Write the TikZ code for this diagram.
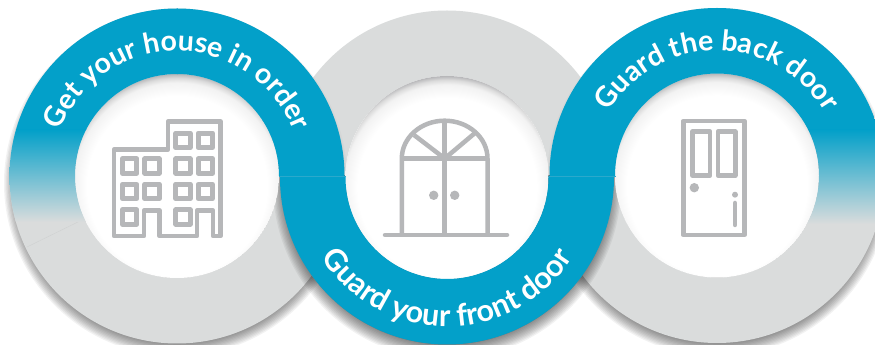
\documentclass[tikz,border=0pt]{standalone}
\usepackage{fontspec}
\usetikzlibrary{decorations.text}
\newfontfamily\ringfont[BoldFont={Lato Bold}]{Lato}
\definecolor{bandblue}{HTML}{03A0C9}
\definecolor{ringgray}{HTML}{DADCDC}
\definecolor{icongray}{HTML}{B6B7B9}
\definecolor{seamblue}{HTML}{2BA9CC}
\pgfdeclareradialshading{holeshade}{\pgfpoint{0bp}{0bp}}{
  rgb(0bp)=(1,1,1); rgb(20bp)=(1,1,1); rgb(23bp)=(0.95,0.95,0.95);
  rgb(24bp)=(0.86,0.86,0.86); rgb(25bp)=(0.70,0.70,0.71); rgb(50bp)=(0.70,0.70,0.71)}
\newcommand{\dropshadow}[4]{% x, y, top radius, opacity
  \foreach \i in {0,...,11}{
    \fill[black,opacity=#4] (#1,#2) circle ({#3-\i*1.3 pt});
  }}
\newcommand{\hole}[3]{%
  \begin{scope}
    \clip (#1,#2) circle (#3 pt);
    \fill[white] (#1,#2) circle (#3 pt);
    \shade[shading=holeshade] (#1,#2+10) circle ({#3+10.5 pt});
  \end{scope}}
\newcommand{\ringfmt}{\ringfont\bfseries\fontsize{28.5}{33}\selectfont\color{white}}
\newcommand{\ringfmtlow}{\ringfont\bfseries\fontsize{30.5}{34}\selectfont\color{white}}
\tikzset{
  icon/.style={draw=icongray,line width=4.5pt,line join=round,line cap=round},
  knob/.style={fill=icongray},
  seam/.style={draw=seamblue,line width=0.5pt},
  faintseam/.style={draw=black!5!ringgray,line width=0.4pt},
  ringtext/.style={decorate,decoration={text along path,text align=center,text={#1}}}
}
\begin{document}
\begin{tikzpicture}[x=1pt,y=1pt]
\useasboundingbox (0,0) rectangle (875,345);
\clip (0,0) rectangle (875,345);
\fill[white] (0,0) rectangle (875,345);
\begin{scope}[y=-1pt,yshift=345pt]
  % drop shadows
  \dropshadow{177}{183}{173}{0.05}
  \dropshadow{717}{183}{173}{0.05}
  % grey rings
  \fill[ringgray,even odd rule] (177,176) circle (167.5pt) (177,176) circle (102pt);
  \fill[ringgray,even odd rule] (717,175.5) circle (167.5pt) (717,175.5) circle (102pt);
  \fill[ringgray,even odd rule] (447,177.5) circle (167pt) (447,177.5) circle (101.5pt);
  \draw[faintseam] (27,247) -- (84,219);
  % shadows of the blue band
  \begin{scope}
    \clip (0,176) rectangle (875,345);
    \dropshadow{447}{185}{174}{0.05}
  \end{scope}
  \begin{scope}
    \clip (447,177.5) circle (167pt);
    \clip (0,0) rectangle (875,176);
    \dropshadow{177}{178}{170}{0.02}
    \dropshadow{717}{178}{170}{0.02}
  \end{scope}
  % holes
  \hole{177}{176}{102}
  \hole{447}{177.5}{101.5}
  \hole{717}{175.5}{102}
  % blue band
  \begin{scope}[even odd rule]
    \clip (177,176) circle (167.5pt) (177,176) circle (102pt);
    \fill[bandblue] (177,0) rectangle (360,176);
    \fill[bandblue] (0,0) rectangle (177.5,130);
    \shade[top color=bandblue,bottom color=ringgray] (0,130) rectangle (177,222);
  \end{scope}
  \begin{scope}[even odd rule]
    \clip (717,175.5) circle (167.5pt) (717,175.5) circle (102pt);
    \fill[bandblue] (530,0) rectangle (717,176);
    \fill[bandblue] (716.5,0) rectangle (890,130);
    \shade[top color=bandblue,bottom color=ringgray] (717,130) rectangle (890,224);
  \end{scope}
  \begin{scope}[even odd rule]
    \clip (447,177.5) circle (167pt) (447,177.5) circle (101.5pt);
    \fill[bandblue] (270,176) rectangle (630,345);
  \end{scope}
  \draw[seam] (279,176) -- (345.5,176);
  \draw[seam] (549,176) -- (615.5,176);
  % building
  \draw[icon] (168,149.5) -- (114,149.5) -- (114,236) -- (144,236) -- (144,210.5) -- (159.5,210.5) -- (159.5,236) -- (197,236) -- (197,210.5) -- (213,210.5) -- (213,236) -- (220.5,236) -- (220.5,121.5) -- (168,121.5) -- cycle;
  \foreach \cx/\cy in {129.7/166,152/166,129.7/191.5,152/191.5,129.7/217,
                       183/140.3,205.3/140.3,183/166,205.3/166,183/191.5,205.3/191.5,183/217}{
    \draw[icon,line width=5pt] (\cx-7.2,\cy-7.2) rectangle (\cx+7.2,\cy+7.2);
  }
  % front door
  \draw[icon,line cap=butt] (401.8,235) -- (401.8,158.5) arc[start angle=180,end angle=360,x radius=42.85,y radius=37.8] -- (487.5,235);
  \draw[icon,line cap=butt] (444.7,120.7) -- (444.7,235);
  \draw[icon,line cap=butt] (401.8,158.5) -- (487.5,158.5);
  \draw[icon,line cap=butt] (444.7,158.5) -- (414,135);
  \draw[icon,line cap=butt] (444.7,158.5) -- (475,133);
  \draw[icon] (385,235) -- (507,235);
  \fill[knob] (433.7,195.3) circle (4.7pt);
  \fill[knob] (454.7,195.3) circle (4.7pt);
  % back door
  \draw[icon] (683.3,121) rectangle (744.3,235);
  \draw[icon] (692.3,131.7) rectangle (710,175.5);
  \draw[icon] (717.8,131.7) rectangle (735.3,175.5);
  \fill[knob] (694.3,187.7) circle (4.7pt);
  \fill[knob] (735,194.7) circle (3pt);
  \draw[icon] (735,203) -- (735,225);
\end{scope}
% curved labels
\path[ringtext={|\ringfmt|Get your house in order}] (52,169) arc[start angle=180,end angle=0,radius=125];
\path[ringtext={|\ringfmtlow|Guard your front door}] (298,167.5) arc[start angle=180,end angle=360,radius=149];
\path[ringtext={|\ringfmt|Guard the back door}] (592,169.5) arc[start angle=180,end angle=0,radius=125];
\end{tikzpicture}
\end{document}
